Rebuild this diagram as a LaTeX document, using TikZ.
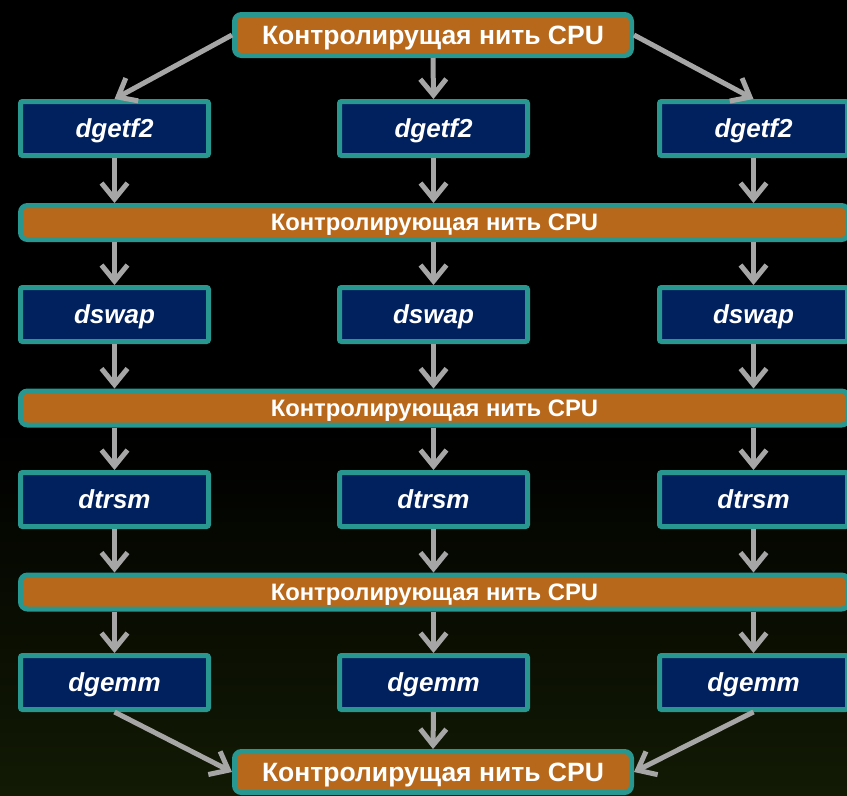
\documentclass[tikz,border=0pt]{standalone}
\usepackage{fontspec}
\setmainfont{Liberation Sans}
\usetikzlibrary{arrows.meta}
\definecolor{ctrlfill}{HTML}{B8681A}
\definecolor{edge}{HTML}{27978F}
\definecolor{kernfill}{HTML}{00205E}
\definecolor{arrowgray}{HTML}{A6A6A6}
\definecolor{bgbottom}{RGB}{18,26,4}
\tikzset{
  ctrlbox/.style={draw=edge, line width=5pt, fill=ctrlfill, rounded corners=7pt,
    text=white, font=\bfseries\fontsize{26.5}{28}\selectfont, inner sep=0pt,
    text depth=0pt},
  ctrlbar/.style={ctrlbox, minimum width=828pt, minimum height=34pt,
    font=\bfseries\fontsize{23.8}{25}\selectfont},
  ctrltop/.style={ctrlbox, minimum width=397pt, minimum height=41pt},
  kernel/.style={draw=edge, line width=5pt, fill=kernfill, rounded corners=2pt,
    text=white, font=\bfseries\itshape\fontsize{26}{28}\selectfont,
    minimum width=188pt, minimum height=54pt, inner sep=0pt, text depth=0pt},
  flow/.style={draw=arrowgray, line width=5pt,
    -{Straight Barb[length=16pt, width=26pt, line width=5pt]}}
}
\begin{document}
\begin{tikzpicture}[x=1pt, y=-1pt]
\useasboundingbox (0,0) rectangle (847,796);
\clip (0,0) rectangle (847,796);
% background: black fading into a dark olive towards the bottom
\fill[black] (0,0) rectangle (847,430);
\shade[top color=black, bottom color=bgbottom] (0,430) rectangle (847,796);

% control thread boxes
\node[ctrltop] (top) at (433,35) {Контролирущая нить CPU};
\node[ctrlbar] (b1) at (434.5,222.5) {Контролирующая нить CPU};
\node[ctrlbar] (b2) at (434.5,408) {Контролирующая нить CPU};
\node[ctrlbar] (b3) at (434.5,592) {Контролирующая нить CPU};
\node[ctrltop] (bot) at (433,772) {Контролирущая нить CPU};

% kernel boxes, three columns
\foreach \c/\x in {1/114.5, 2/433.5, 3/753.5} {
  \node[kernel] (g\c)  at (\x,128.5) {dgetf2};
  \node[kernel] (s\c)  at (\x,314.5) {dswap};
  \node[kernel] (t\c)  at (\x,499.5) {dtrsm};
  \node[kernel] (m\c)  at (\x,682.5) {dgemm};
}

% fan-out from the top control thread
\draw[flow] (top.west) -- (g1.north);
\draw[flow] (top.south) -- (g2.north);
\draw[flow] (top.east) -- (g3.north);

% column flows through the synchronisation bars
\foreach \c in {1,2,3} {
  \draw[flow] (g\c.south) -- (g\c.south |- b1.north);
  \draw[flow] (b1.south -| s\c) -- (s\c.north);
  \draw[flow] (s\c.south) -- (s\c.south |- b2.north);
  \draw[flow] (b2.south -| t\c) -- (t\c.north);
  \draw[flow] (t\c.south) -- (t\c.south |- b3.north);
  \draw[flow] (b3.south -| m\c) -- (m\c.north);
}

% fan-in to the bottom control thread
\draw[flow] (m1.south) -- (bot.west);
\draw[flow] (m2.south) -- (bot.north);
\draw[flow] (m3.south) -- (bot.east);
\end{tikzpicture}
\end{document}
